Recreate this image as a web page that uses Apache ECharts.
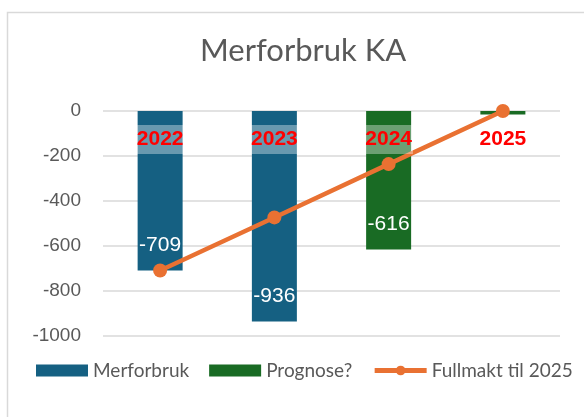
<!DOCTYPE html>
<html>
<head>
<meta charset="utf-8">
<script src="https://cdn.jsdelivr.net/npm/echarts@6/dist/echarts.min.js"></script>
<style>
  html, body { margin: 0; padding: 0; background: #fff; }
  #chart { width: 584px; height: 417px; }
</style>
</head>
<body>
<div id="chart"></div>
<script>
const years = ['2022', '2023', '2024', '2025']
const merforbruk = [-709, -936, null, null]
const prognose = [null, null, -616, -15]
const fullmakt = [-709, -473, -236, 0]
const yTicks = { min: -1000, max: 0, step: 200 }

const chart = echarts.init(document.getElementById('chart'))

// hide labels on tiny bars (2025 has none in the original)
const barLabel = {
  show: true,
  position: 'insideBottom',
  distance: 15,
  color: '#fff',
  fontFamily: 'Liberation Sans',
  fontSize: 21,
  formatter: p => (p.value < -50 ? p.value : '')
}

let option = {
  animation: false,
  backgroundColor: '#fff',
  graphic: [{
    type: 'rect',
    shape: { x: 7.5, y: 12.5, width: 620, height: 440 },
    style: { fill: 'none', stroke: '#d9d9d9', lineWidth: 1.5 },
    silent: true
  }],
  title: {
    text: 'Merforbruk KA',
    left: 195,
    top: 30,
    textStyle: { fontFamily: 'Lato', fontWeight: 'normal', fontSize: 31, color: '#595959' }
  },
  grid: { left: 103, right: 24, top: 111, bottom: 81 },
  legend: {
    left: 31,
    top: 356,
    itemWidth: 52,
    itemHeight: 12,
    itemGap: 20,
    textStyle: { fontFamily: 'Lato', fontSize: 19, color: '#595959' },
    data: [
      { name: 'Merforbruk', icon: 'rect' },
      { name: 'Prognose?', icon: 'rect' },
      { name: 'Fullmakt til 2025', lineStyle: { width: 5 } }
    ]
  },
  xAxis: {
    type: 'category',
    data: years,
    position: 'top',
    z: 10,
    axisLine: { show: false },
    axisTick: { show: false },
    axisLabel: {
      inside: true,
      margin: 14,
      color: '#ff0000',
      fontFamily: 'Liberation Sans',
      fontWeight: 'bold',
      fontSize: 21,
      backgroundColor: 'rgba(255,255,255,0.36)',
      padding: [4, 1, 4, 1]
    }
  },
  yAxis: {
    type: 'value',
    min: yTicks.min,
    max: yTicks.max,
    interval: yTicks.step,
    axisLine: { show: false },
    axisTick: { show: false },
    axisLabel: {
      margin: 22,
      color: '#595959',
      fontFamily: 'Liberation Sans',
      fontSize: 19,
      formatter: v => String(v)
    },
    splitLine: { lineStyle: { color: '#d9d9d9', width: 1.5 } }
  },
  series: [
    {
      name: 'Merforbruk',
      type: 'bar',
      data: merforbruk,
      barWidth: 45,
      barGap: '-100%',
      itemStyle: { color: '#156082' },
      label: barLabel
    },
    {
      name: 'Prognose?',
      type: 'bar',
      data: prognose,
      barWidth: 45,
      barGap: '-100%',
      itemStyle: { color: '#196b24' },
      label: barLabel
    },
    {
      name: 'Fullmakt til 2025',
      type: 'line',
      data: fullmakt,
      z: 5,
      symbol: 'circle',
      symbolSize: 14,
      lineStyle: { color: '#e97132', width: 4.5 },
      itemStyle: { color: '#e97132' }
    }
  ]
}

chart.setOption(option, true)
</script>
</body>
</html>
